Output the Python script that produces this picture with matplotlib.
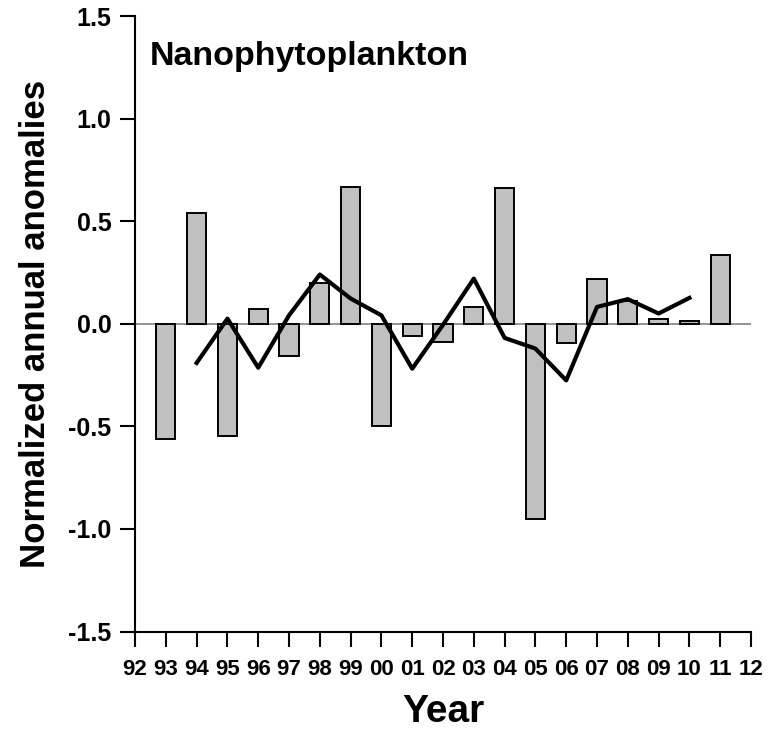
import matplotlib
matplotlib.use('Agg')
import matplotlib.pyplot as plt

plt.rcParams['font.family'] = ['Liberation Sans', 'DejaVu Sans']
plt.rcParams['font.weight'] = 'bold'

years = list(range(1993, 2012))
anomalies = [-0.56, 0.54, -0.545, 0.074, -0.157, 0.20, 0.666, -0.498, -0.059,
             -0.09, 0.082, 0.66, -0.952, -0.092, 0.22, 0.11, 0.022, 0.014, 0.334]

mean_years = list(range(1994, 2011))
running_mean = [-0.191, 0.025, -0.214, 0.041, 0.24, 0.123, 0.041, -0.219, -0.005,
                0.22, -0.069, -0.121, -0.276, 0.082, 0.12, 0.05, 0.126]

tick_years = list(range(1992, 2013))
tick_labels = ['%02d' % (y % 100) for y in tick_years]

fig = plt.figure(figsize=(7.69, 7.35), dpi=100)
ax = fig.add_axes([0.1756, 0.1408, 0.801, 0.8374])

ax.axhline(0, color='#808080', lw=1.2, zorder=1)
ax.bar(years, anomalies, width=0.62, color='#c0c0c0', edgecolor='black',
       linewidth=1.4, zorder=2)
ax.plot(mean_years, running_mean, color='black', lw=3, zorder=3)

ax.set_xlim(1992, 2012)
ax.set_ylim(-1.5, 1.5)
ax.set_yticks([-1.5, -1.0, -0.5, 0.0, 0.5, 1.0, 1.5])
ax.set_yticklabels(['-1.5', '-1.0', '-0.5', '0.0', '0.5', '1.0', '1.5'],
                   fontsize=18, fontweight='bold')
ax.set_xticks(tick_years)
ax.set_xticklabels(tick_labels, fontsize=16, fontweight='bold')

for s in ['top', 'right']:
    ax.spines[s].set_visible(False)
for s in ['left', 'bottom']:
    ax.spines[s].set_linewidth(1.5)
ax.tick_params(axis='both', direction='out', length=11, width=1.5, color='black')
ax.tick_params(axis='y', pad=6)
ax.tick_params(axis='x', pad=9)

ax.set_ylabel('Normalized annual anomalies', fontsize=25, fontweight='bold', labelpad=12)
ax.set_xlabel('Year', fontsize=28, fontweight='bold', labelpad=10)

ax.text(0.024, 0.92, 'Nanophytoplankton', transform=ax.transAxes,
        fontsize=24.5, fontweight='bold', va='baseline', ha='left')

fig.savefig('out.png', dpi=100)
